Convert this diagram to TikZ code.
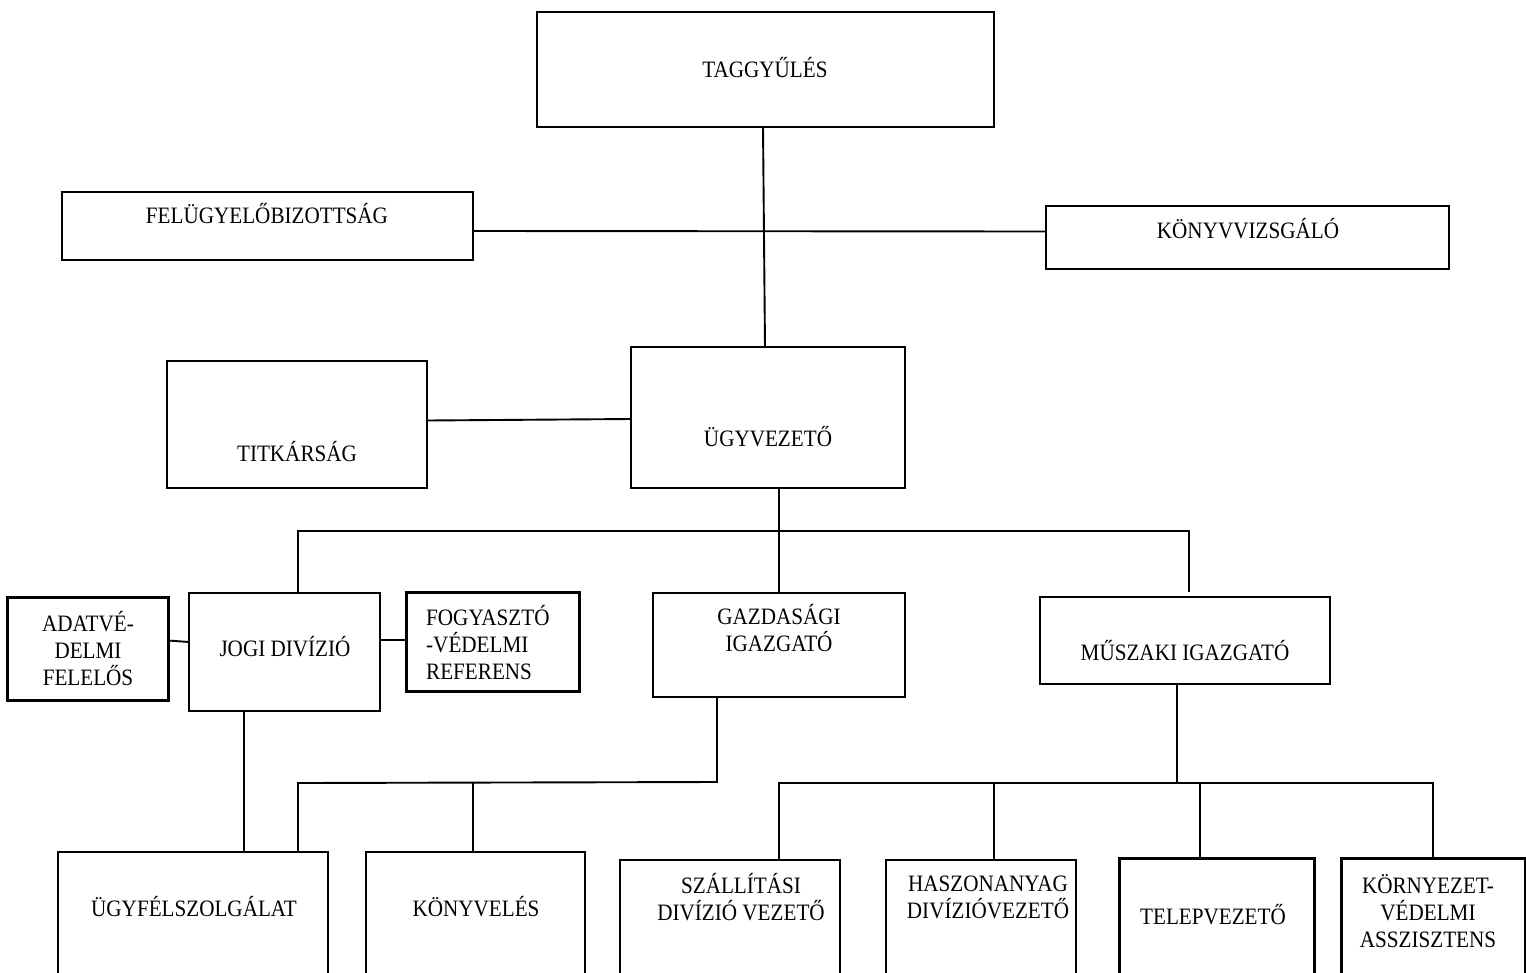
\documentclass[tikz,border=0pt]{standalone}
\usepackage{fontspec}
\setmainfont{Liberation Serif}[FakeStretch=0.9]
\begin{document}
\begin{tikzpicture}[x=1pt,y=-1pt,
  box/.style={draw, line width=1.4pt, inner sep=0pt, outer sep=0pt},
  tbox/.style={box, line width=3pt},
  txt/.style={font=\fontsize{23.5}{27}\selectfont, inner sep=0pt, align=center},
  ln/.style={line width=1.9pt}]
\newcommand\orgbox[6][box]{\node[#1, minimum width={(#5-#3)*1pt}, minimum height={(#6-#4)*1pt}] (#2) at ({(#3+#5)/2},{(#4+#6)/2}) {};}
\useasboundingbox (0,0) rectangle (1526,972);
\clip (0,0) rectangle (1526,972);
\fill[white] (0,0) rectangle (1526,972);
% boxes
\orgbox{tag}{537}{12}{994}{127}
\orgbox{fel}{62}{192}{473}{260}
\orgbox{konyvv}{1046}{206}{1449}{269}
\orgbox{ugyv}{631}{347}{905}{488}
\orgbox{titk}{167}{361}{427}{488}
\orgbox{jogi}{189}{593}{380}{711}
\orgbox[tbox]{adat}{7}{597}{168}{700}
\orgbox[tbox]{fogy}{406}{592}{579}{691}
\orgbox{gazd}{653}{593}{905}{697}
\orgbox{musz}{1040}{597}{1330}{684}
\orgbox{ugyf}{58}{852}{328}{990}
\orgbox{konyvel}{366}{852}{585}{990}
\orgbox{szall}{620}{860}{840}{990}
\orgbox{hasz}{886}{860}{1076}{990}
\orgbox[tbox]{telep}{1119}{858}{1314}{990}
\orgbox[tbox]{korny}{1341}{858}{1525}{990}
% texts
\node[txt] (t-tag) at (765,68) {TAGGYŰLÉS};
\node[txt] (t-fel) at (267,214) {FELÜGYELŐBIZOTTSÁG};
\node[txt] (t-konyvv) at (1248,229) {KÖNYVVIZSGÁLÓ};
\node[txt] (t-ugyv) at (768,437) {ÜGYVEZETŐ};
\node[txt] (t-titk) at (297,452) {TITKÁRSÁG};
\node[txt] (t-jogi) at (285,647) {JOGI DIVÍZIÓ};
\node[txt] (t-adat) at (88,649) {ADATVÉ-\\DELMI\\FELELŐS};
\node[txt, align=left, anchor=west] (t-fogy) at (426,643) {FOGYASZTÓ\\-VÉDELMI\\REFERENS};
\node[txt] (t-gazd) at (779,628) {GAZDASÁGI\\IGAZGATÓ};
\node[txt] (t-musz) at (1185,651) {MŰSZAKI IGAZGATÓ};
\node[txt] (t-ugyf) at (194,907) {ÜGYFÉLSZOLGÁLAT};
\node[txt] (t-konyvel) at (476,907) {KÖNYVELÉS};
\node[txt] (t-szall) at (741,897) {SZÁLLÍTÁSI\\DIVÍZIÓ VEZETŐ};
\node[txt] (t-hasz) at (988,897) {HASZONANYAG\\DIVÍZIÓVEZETŐ};
\node[txt] (t-telep) at (1213,915) {TELEPVEZETŐ};
\node[txt] (t-korny) at (1428,911) {KÖRNYEZET-\\VÉDELMI\\ASSZISZTENS};
% connectors
\draw[ln] ([xshift=-2.5pt]tag.south) -- ([xshift=-3pt]ugyv.north);
\draw[ln] ([yshift=-5pt]fel.east) -- ([yshift=6pt]konyvv.west);
\draw[ln] ([yshift=4pt]titk.east) -- ([yshift=-1.5pt]ugyv.west);
\coordinate (b1) at (779,531);
\coordinate (bl) at (298,531);
\coordinate (br) at (1189,531);
\coordinate (br2) at (1189,592);
\draw[ln] (ugyv.south -| b1) -- (gazd.north -| b1);
\draw[ln] (jogi.north -| bl) -- (bl) -- (br) -- (br2);
\draw[ln] ([yshift=8pt]adat.east) -- ([yshift=10pt]jogi.west);
\draw[ln] ([yshift=12pt]jogi.east) -- ([yshift=1.5pt]fogy.west);
\coordinate (c1) at (244,700);
\draw[ln] (jogi.south -| c1) -- (ugyf.north -| c1);
\coordinate (g1) at (717,782);
\coordinate (g2) at (298,783);
\coordinate (g3) at (473,783);
\draw[ln] (gazd.south -| g1) -- (g1) -- (g2) -- (ugyf.north -| g2);
\draw[ln] (g3) -- (konyvel.north -| g3);
\coordinate (m1) at (1177,783);
\coordinate (mL) at (779,783);
\coordinate (mR) at (1433,783);
\coordinate (m2) at (994,783);
\coordinate (m3) at (1200,783);
\draw[ln] (musz.south -| m1) -- (m1);
\draw[ln] (szall.north -| mL) -- (mL) -- (mR) -- (korny.north -| mR);
\draw[ln] (m2) -- (hasz.north -| m2);
\draw[ln] (m3) -- (telep.north -| m3);
\end{tikzpicture}
\end{document}
